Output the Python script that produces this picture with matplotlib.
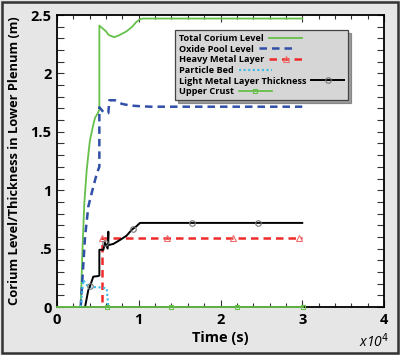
import matplotlib
matplotlib.use("Agg")
import matplotlib.pyplot as plt
from matplotlib.ticker import MultipleLocator
from matplotlib.patches import Rectangle

# ---- data (time in seconds, levels in m) ----
t_total = [0, 2900, 3100, 3340, 3630, 3900, 4040, 4370, 4650, 5000, 5180, 5180, 5500,
           6000, 6300, 7000, 7700, 8500, 9200, 9700, 10150, 10500, 30000]
total = [0, 0, 0.46, 0.89, 1.17, 1.35, 1.43, 1.54, 1.62, 1.66, 1.69, 2.41, 2.39,
         2.36, 2.33, 2.31, 2.33, 2.36, 2.40, 2.44, 2.465, 2.47, 2.47]

t_oxide = [2900, 3100, 3430, 3830, 4440, 4900, 5180, 5180, 5670, 6280, 6400, 7100,
           7900, 8930, 10000, 11380, 30000]
oxide = [0, 0.23, 0.60, 0.86, 1.03, 1.15, 1.20, 1.71, 1.67, 1.66, 1.77, 1.77,
         1.74, 1.725, 1.72, 1.715, 1.715]

t_heavy = [3000, 5460, 5460, 13420, 21490, 29640, 30000]
heavy = [0, 0, 0.59, 0.59, 0.59, 0.59, 0.59]
heavy_marks = [2, 3, 4, 5]

t_bed = [2900, 3220, 3830, 5000, 6080, 6280]
bed = [0, 0.23, 0.17, 0.17, 0.16, 0]

t_light = [3430, 3830, 4040, 4440, 5060, 5180, 5180, 5670, 5870, 6200, 6280, 6280, 6890,
           7710, 8500, 9130, 9300, 9700, 10150, 16550, 24600, 30000]
light = [0, 0.145, 0.18, 0.26, 0.265, 0.27, 0.49, 0.49, 0.55, 0.50, 0.645, 0.53, 0.54,
         0.574, 0.61, 0.66, 0.67, 0.69, 0.72, 0.72, 0.72, 0.72]
light_marks = [2, 8, 16, 19, 20]

t_crust = [0, 6080, 13900, 21980, 30050]
crust = [0, 0, 0, 0, 0]

labels = ["Total Corium Level", "Oxide Pool Level", "Heavy Metal Layer",
          "Particle Bed", "Light Metal Layer Thickness", "Upper Crust"]
x_ticklabels = ["0", "1", "2", "3", "4"]
y_ticklabels = ["0", ".5", "1", "1.5", "2", "2.5"]

FONT = "Open Sans"
plt.rcParams['font.family'] = [FONT, 'DejaVu Sans']

fig = plt.figure(figsize=(4.0, 3.55), dpi=100)
fig.patch.set_facecolor('#e6e6e6')
fig.patches.append(Rectangle((0.004, 0.005), 0.991, 0.99, transform=fig.transFigure,
                             fill=False, edgecolor='#333333', lw=1.8))
ax = fig.add_axes([0.1425, 0.1352, 0.8175, 0.8225])
ax.set_facecolor('white')

green = '#66c04a'
blue = '#2f4fa8'
red = '#ee2a2a'
cyan = '#3bbbe8'

ax.plot(t_total, total, color=green, lw=1.3, label=labels[0], zorder=3)
ax.plot(t_oxide, oxide, color=blue, lw=1.8, ls=(0, (3, 2)), label=labels[1], zorder=3)
ax.plot(t_heavy, heavy, color=red, lw=1.8, ls=(0, (3, 2)), marker='^', ms=4,
        mfc='none', mec='#f07070', mew=0.8, markevery=heavy_marks, label=labels[2], zorder=3)
ax.plot(t_bed, bed, color=cyan, lw=1.5, ls=(0, (1, 1.2)), label=labels[3], zorder=3)
ax.plot(t_light, light, color='black', lw=1.4, marker='o', ms=4, mfc='none',
        mec='#777777', mew=0.8, markevery=light_marks, label=labels[4], zorder=4)
ax.plot(t_crust, crust, color=green, lw=1.3, marker='s', ms=3.5, mfc='none',
        mec=green, mew=0.8, markevery=[1, 2, 3, 4], label=labels[5], zorder=5, clip_on=False)

ax.set_xlim(0, 40000)
ax.set_ylim(0, 2.5)
ax.set_xticks([0, 10000, 20000, 30000, 40000])
ax.set_xticklabels(x_ticklabels)
ax.xaxis.set_minor_locator(MultipleLocator(2000))
ax.set_yticks([0, 0.5, 1, 1.5, 2, 2.5])
ax.set_yticklabels(y_ticklabels)
ax.yaxis.set_minor_locator(MultipleLocator(0.1))
ax.tick_params(which='both', direction='in', top=True, right=True, width=0.8, color='#333333')
ax.tick_params(which='major', length=5, labelsize=10.5, pad=4)
ax.tick_params(which='minor', length=3)
ax.tick_params(axis='y', which='minor', length=5)
for lab in ax.get_xticklabels() + ax.get_yticklabels():
    lab.set_fontweight('bold')
for s in ax.spines.values():
    s.set_linewidth(1.3)
    s.set_color('black')

ax.set_xlabel("Time (s)", fontsize=10.5, fontweight='bold', labelpad=3)
ax.set_ylabel("Corium Level/Thickness in Lower Plenum (m)", fontsize=9.3,
              fontweight='bold', labelpad=7)
fig.text(0.972, 0.012, r"x10$^{4}$", fontsize=10, fontstyle='italic', ha='right',
         va='bottom')

leg = ax.legend(loc='upper left', bbox_to_anchor=(0.361, 0.949), borderaxespad=0,
                markerfirst=False, prop={'weight': 'bold', 'size': 6.6},
                frameon=True, fancybox=False, shadow=True, facecolor='#d6d6d6',
                edgecolor='#444444', framealpha=1, handlelength=3.6, labelspacing=0.18,
                borderpad=0.45, handletextpad=0.5)
leg.get_frame().set_linewidth(0.9)
for col in leg._legend_handle_box.get_children():
    col.align = 'left'

fig.savefig("out.png", dpi=100, facecolor=fig.get_facecolor())
